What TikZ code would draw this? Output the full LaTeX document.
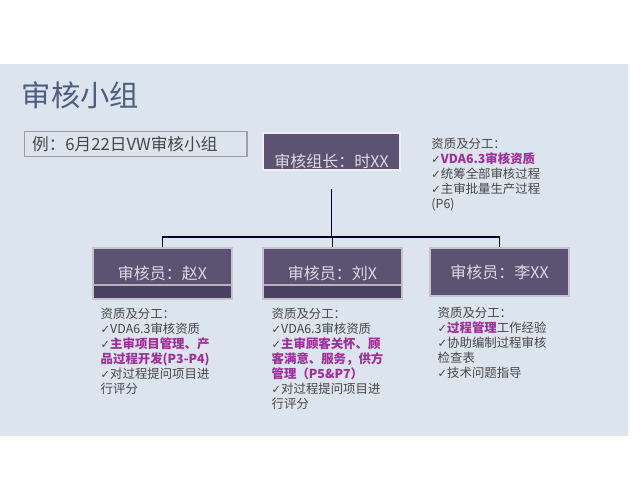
\documentclass[tikz,border=0pt]{standalone}
\usepackage{fontspec}
\setmainfont{Noto Sans CJK SC}
\newfontfamily\symfont{DejaVu Sans}
\usepackage{xcolor}
\usetikzlibrary{positioning}
\definecolor{panelbg}{HTML}{DCE4EF}
\definecolor{titleblue}{HTML}{4F5D7F}
\definecolor{boxfill}{HTML}{5C5272}
\definecolor{bandfill}{HTML}{4A4161}
\definecolor{boxtext}{HTML}{DCDAE4}
\definecolor{bodytext}{HTML}{474747}
\definecolor{hilite}{HTML}{A02E9C}
\newcommand{\ck}{{\symfont\fontsize{8.5}{9}\selectfont ✓}}
\newcommand{\hl}[1]{{\bfseries\color{hilite}#1}}
\tikzset{
  rolebox/.style={draw=white!65!boxfill, line width=0.8pt, fill=boxfill, text=boxtext,
    font=\fontsize{12}{14}\selectfont, minimum width=104.25pt, minimum height=38.25pt, inner sep=0pt},
  bandbox/.style={rolebox, path picture={
    \fill[bandfill] (path picture bounding box.south west) rectangle ([yshift=10.5pt]path picture bounding box.south east);
    \draw[white!55!boxfill, line width=0.8pt] ([yshift=10.5pt]path picture bounding box.south west) -- ([yshift=10.5pt]path picture bounding box.south east);}},
  leadbox/.style={rolebox, draw=white!90!boxfill, line width=1.8pt, minimum width=102.75pt,
    minimum height=27.75pt, text height=24pt, text depth=0pt, inner ysep=2pt},
  exbox/.style={draw=gray!75, line width=1pt, text=bodytext, font=\fontsize{12.5}{14}\selectfont,
    text width=155pt, align=left, inner xsep=6pt, minimum height=16.5pt},
  qual/.style={align=left, anchor=north west, inner sep=0pt, text=bodytext, font=\fontsize{9.3}{11.3}\selectfont},
  conn/.style={draw=black!85!blue, line width=1.1pt},
}

\begin{document}
\begin{tikzpicture}[x=0.75pt,y=-0.75pt]
\useasboundingbox (0,0) rectangle (640,480);
\fill[white] (0,0) rectangle (640,480);
\fill[panelbg] (0,64) rectangle (628,436);
\node[anchor=west, text=titleblue, font=\fontsize{22}{24}\selectfont] (title) at (17,95) {审核小组};
\node[exbox] (example) at (135.5,144) {例：6月22日VW审核小组};
% leader and auditors
\node[leadbox] (lead) at (331.5,151.5) {审核组长：时XX};
\node[bandbox] (a1) at (162.5,273.5) {审核员：赵X};
\node[bandbox] (a2) at (332.5,273.5) {审核员：刘X};
\node[rolebox, minimum height=36pt] (a3) at (499.5,272) {审核员：李XX};
\coordinate (bus) at (331.5,237);
\draw[conn] ([yshift=-13.5pt]lead.south) -- (bus);
\draw[conn] (a1.north) |- (bus) -| (a3.north);
\draw[conn] (a2.north) -- (a2.north |- bus);
% qualifications
\node[qual, below right=4.5pt and 22.5pt of lead.north east] (q0) {资质及分工：\\
  \ck\hl{VDA6.3审核资质}\\
  \ck 统筹全部审核过程\\
  \ck 主审批量生产过程\\
  (P6)};
\node[qual, below right=6pt and 6pt of a1.south west] (q1) {资质及分工：\\
  \ck VDA6.3审核资质\\
  \ck\hl{主审项目管理、产}\\
  \hl{品过程开发(P3-P4)}\\
  \ck 对过程提问项目进\\
  行评分};
\node[qual, below right=6pt and 6.75pt of a2.south west] (q2) {资质及分工：\\
  \ck VDA6.3审核资质\\
  \ck\hl{主审顾客关怀、顾}\\
  \hl{客满意、服务，供方}\\
  \hl{管理（P5\&P7）}\\
  \ck 对过程提问项目进\\
  行评分};
\node[qual, below right=7.5pt and 6pt of a3.south west] (q3) {资质及分工：\\
  \ck\hl{过程管理}工作经验\\
  \ck 协助编制过程审核\\
  检查表\\
  \ck 技术问题指导};
\end{tikzpicture}
\end{document}
